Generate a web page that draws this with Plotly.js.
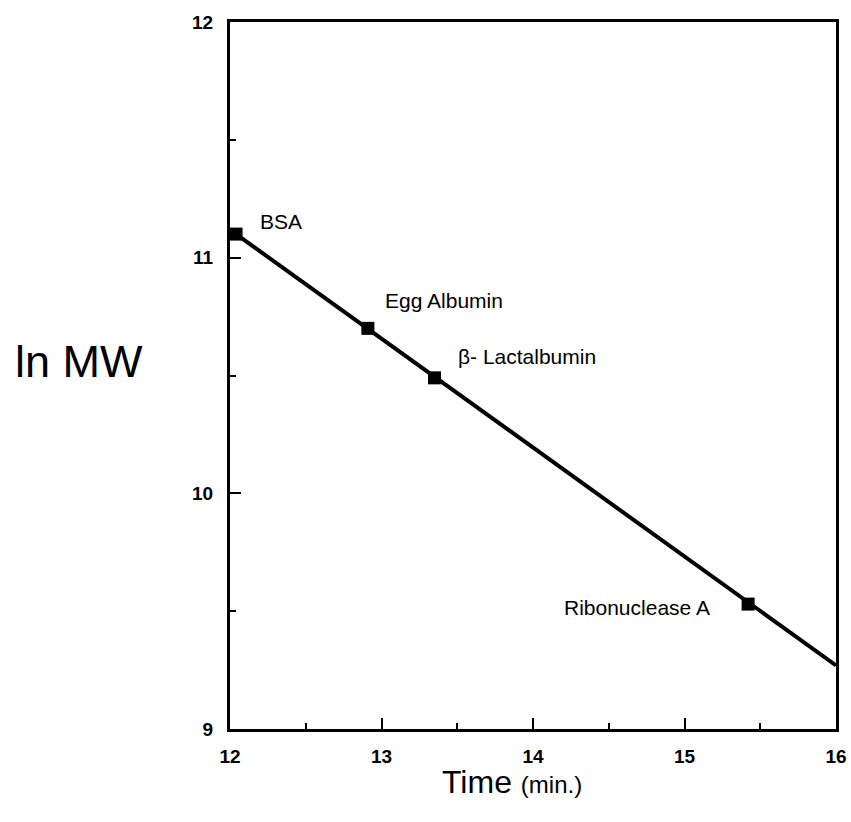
<!DOCTYPE html>
<html>
<head>
<meta charset="utf-8">
<script src="https://cdn.plot.ly/plotly-3.0.1.min.js"></script>
<style>html,body{margin:0;padding:0;background:#fff;}#chart{width:851px;height:822px;}</style>
</head>
<body>
<div id="chart"></div>
<script>
// Calibration proteins: retention time (min) and ln MW
const proteins = ["BSA", "Egg Albumin", "β- Lactalbumin", "Ribonuclease A"];
const timeMin = [12.04, 12.91, 13.35, 15.42];
const lnMW = [11.10, 10.70, 10.49, 9.53];
// Fitted calibration line end points
const fitTime = [12.04, 16.0];
const fitLnMW = [11.10, 9.27];
// Axis ticks
const xTicks = [12, 13, 14, 15, 16];
const yTicks = [9, 10, 11, 12];

// label offsets (px) relative to each point
const labelStyle = [
  {xanchor: "left", xshift: 22, yshift: 13},
  {xanchor: "left", xshift: 15, yshift: 28},
  {xanchor: "left", xshift: 21, yshift: 21},
  {xanchor: "right", xshift: -36, yshift: -3}
];

const font = "Arial, 'Liberation Sans', Helvetica, sans-serif";

const traces = [
  {x: fitTime, y: fitLnMW, mode: "lines", line: {color: "#000", width: 4}, hoverinfo: "skip", cliponaxis: false},
  {x: timeMin, y: lnMW, mode: "markers", marker: {symbol: "square", size: 13, color: "#000"}, cliponaxis: false, text: proteins}
];

const annotations = proteins.map((p, i) => Object.assign({
  x: timeMin[i], y: lnMW[i], xref: "x", yref: "y", text: p, showarrow: false,
  yanchor: "middle", font: {family: font, size: 21, color: "#000"}
}, labelStyle[i]));

annotations.push({
  xref: "paper", yref: "paper", x: -0.25, y: 0.52, text: "ln MW", showarrow: false,
  xanchor: "center", yanchor: "middle", font: {family: font, size: 45, color: "#000"}
});
annotations.push({
  xref: "paper", yref: "paper", x: 0.465, y: -0.075, text: "Time <span style='font-size:24px'>(min.)</span>", showarrow: false,
  xanchor: "center", yanchor: "middle", font: {family: font, size: 32, color: "#000"}
});

const axisCommon = {
  showgrid: false, zeroline: false, showline: true, mirror: true,
  linecolor: "#000", linewidth: 3, ticks: "inside", ticklen: 11, tickwidth: 2, tickcolor: "#000",
  tickfont: {family: font, size: 19, color: "#000", weight: "bold"},
  minor: {dtick: 0.5, ticks: "inside", ticklen: 6, tickwidth: 2, tickcolor: "#000"}
};

const layout = {
  width: 851, height: 822,
  margin: {l: 230, r: 15, t: 22, b: 93},
  paper_bgcolor: "#fff", plot_bgcolor: "#fff",
  showlegend: false,
  xaxis: Object.assign({}, axisCommon, {range: [12, 16], tickvals: xTicks, ticklabelstandoff: 8}),
  yaxis: Object.assign({}, axisCommon, {range: [9, 12], tickvals: yTicks, ticklabelstandoff: 10}),
  annotations: annotations
};

Plotly.newPlot("chart", traces, layout, {displayModeBar: false, staticPlot: true});
</script>
</body>
</html>
